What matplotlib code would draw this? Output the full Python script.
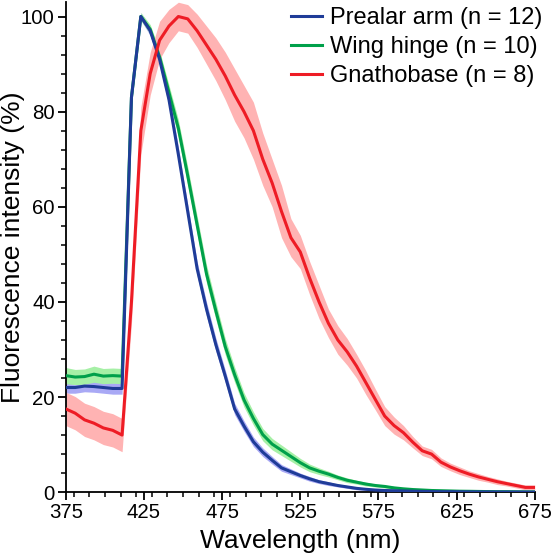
#!/usr/bin/env python

import numpy as np
import matplotlib
matplotlib.use("Agg")
import matplotlib.pyplot as plt
from matplotlib.ticker import MultipleLocator

plt.rcParams["font.family"] = ["Liberation Sans", "DejaVu Sans"]

# wavelength grid (nm), one reading every 6 nm
wavelength = list(range(375, 676, 6))

prealar_arm = [22.0, 22.0, 22.3, 22.2, 22.0, 21.8, 21.8,
               83.0, 100.0, 97.0, 91.0, 82.5, 71.0, 59.0, 47.0, 38.5, 31.0,
               24.4, 17.5, 13.9, 10.6, 8.4, 6.7, 5.1, 4.3, 3.5, 2.8, 2.2,
               1.8, 1.4, 1.1, 0.8, 0.6, 0.45, 0.35, 0.3, 0.25, 0.2, 0.15,
               0.12, 0.1, 0.1, 0.08, 0.06, 0.05, 0.05, 0.04, 0.03, 0.03, 0.02, 0.02]
prealar_sd = [1.2, 1.2, 1.2, 1.2, 1.2, 1.2, 1.2,
              1.2, 0.8, 1.0, 1.2, 1.4, 1.5, 1.5, 1.5, 1.5, 1.4,
              1.3, 1.2, 1.1, 1.0, 0.9, 0.8, 0.7, 0.6, 0.5, 0.5, 0.4,
              0.4, 0.3, 0.3, 0.3, 0.2, 0.2, 0.2, 0.2, 0.2, 0.1, 0.1,
              0.1, 0.1, 0.1, 0.1, 0.1, 0.1, 0.1, 0.1, 0.1, 0.1, 0.1, 0.1]

wing_hinge = [24.5, 24.2, 24.3, 24.8, 24.4, 24.5, 24.4,
              83.0, 100.0, 97.3, 91.5, 84.0, 76.5, 66.5, 56.2, 45.9, 38.1,
              30.6, 24.7, 19.4, 15.5, 12.1, 10.1, 8.8, 7.5, 6.2, 5.1, 4.4,
              3.8, 3.1, 2.5, 2.1, 1.7, 1.4, 1.2, 0.9, 0.7, 0.55, 0.45,
              0.35, 0.3, 0.25, 0.2, 0.18, 0.15, 0.12, 0.1, 0.1, 0.08, 0.06, 0.05]
wing_sd = [1.7, 1.6, 1.6, 1.7, 1.6, 1.6, 1.6,
           1.5, 0.8, 1.0, 1.3, 1.6, 1.8, 1.9, 1.9, 1.9, 1.8,
           1.7, 1.6, 1.5, 1.4, 1.3, 1.2, 1.1, 1.0, 0.9, 0.8, 0.7,
           0.6, 0.5, 0.5, 0.4, 0.4, 0.3, 0.3, 0.3, 0.2, 0.2, 0.2,
           0.1, 0.1, 0.1, 0.1, 0.1, 0.1, 0.1, 0.1, 0.1, 0.1, 0.1, 0.1]

gnathobase = [17.5, 16.6, 15.2, 14.5, 13.5, 13.0, 12.0,
              40.0, 76.0, 88.0, 95.0, 98.0, 100.0, 99.5, 97.0, 94.0, 91.0,
              87.5, 83.5, 80.0, 76.0, 70.0, 65.0, 59.0, 53.5, 50.5, 45.0, 40.0,
              35.5, 32.0, 29.5, 26.5, 23.0, 19.5, 16.0, 14.0, 12.5, 10.5, 8.7,
              8.0, 6.3, 5.3, 4.5, 3.8, 3.2, 2.7, 2.2, 1.8, 1.4, 1.0, 1.0]
gnathobase_sd = [3.5, 3.5, 3.5, 3.5, 3.5, 3.5, 3.5,
                 4.5, 5.0, 4.5, 4.0, 3.5, 3.0, 3.0, 3.5, 4.0, 4.5,
                 5.0, 5.5, 5.5, 6.0, 5.5, 5.0, 5.5, 4.0, 3.5, 3.5, 3.5,
                 3.0, 3.0, 2.8, 2.5, 2.5, 2.2, 2.0, 1.8, 1.5, 1.2, 1.0,
                 1.0, 0.9, 0.8, 0.8, 0.7, 0.7, 0.6, 0.6, 0.5, 0.5, 0.5, 0.5]

series = [
    ("Prealar arm (n = 12)", prealar_arm, prealar_sd, "#1f3c98", "#a9a9f5", 4),
    ("Wing hinge (n = 10)", wing_hinge, wing_sd, "#00a04a", "#a6f0a6", 3),
    ("Gnathobase (n = 8)", gnathobase, gnathobase_sd, "#ee1c25", "#ffb3b3", 5),
]


def main():
    fig = plt.figure(figsize=(5.53, 5.58), dpi=100)
    ax = fig.add_axes([0.119, 0.118, 0.848, 0.878])

    x = np.array(wavelength)
    for label, mean, sd, col, band, z in series:
        m = np.array(mean)
        s = np.array(sd)
        ax.fill_between(x, m - s, m + s, color=band, lw=0, zorder=1)
        ax.plot(x, m, color=col, lw=2.2, label=label, zorder=z)

    ax.set_xlim(375, 675)
    ax.set_ylim(0, 103)
    ax.set_xticks(range(375, 676, 50))
    ax.xaxis.set_minor_locator(MultipleLocator(10))
    ax.yaxis.set_major_locator(MultipleLocator(20))
    ax.yaxis.set_minor_locator(MultipleLocator(4))

    for side in ["top", "right"]:
        ax.spines[side].set_visible(False)
    for side in ["left", "bottom"]:
        ax.spines[side].set_linewidth(1.3)

    ax.tick_params(which="major", length=6, width=1.3, labelsize=14.7, pad=2)
    ax.tick_params(which="minor", length=3.5, width=1.1)

    ax.set_xlabel("Wavelength (nm)", fontsize=19, labelpad=5)
    ax.set_ylabel("Fluorescence intensity (%)", fontsize=19)
    ax.yaxis.set_label_coords(-0.086, 0.5)

    ax.legend(loc="upper right", bbox_to_anchor=(1.046, 1.019), frameon=False,
              fontsize=17, handlelength=1.3, handletextpad=0.35,
              labelspacing=0.29, borderaxespad=0.2)

    fig.savefig("out.png", dpi=100)


if __name__ == "__main__":
    main()
